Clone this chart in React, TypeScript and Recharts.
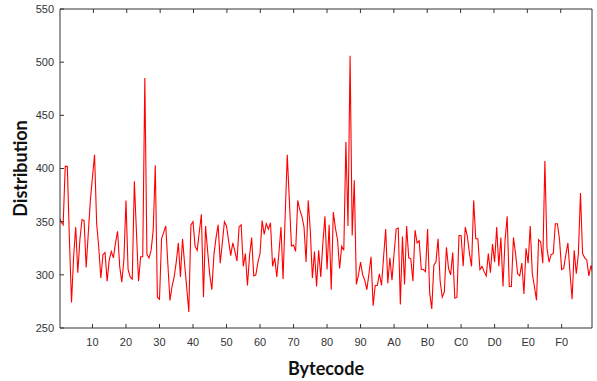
import React from 'react';
import { LineChart, Line, XAxis, YAxis } from 'recharts';

// counts per bytecode 0x00..0xFF
const distribution = [
  355, 350, 347, 402, 402, 333, 274, 317, 345, 302, 333, 352, 351, 307, 339, 370,
  392, 413, 348, 326, 297, 319, 321, 294, 314, 322, 316, 330, 341, 308, 293, 314,
  370, 305, 298, 296, 388, 340, 294, 317, 317, 485, 319, 316, 323, 342, 403, 279,
  277, 334, 340, 346, 310, 276, 289, 298, 312, 330, 298, 334, 310, 288, 265, 347,
  350, 327, 323, 340, 357, 279, 346, 322, 300, 286, 319, 335, 347, 311, 330, 350,
  346, 332, 318, 330, 322, 313, 345, 347, 308, 320, 290, 318, 335, 299, 300, 312,
  320, 351, 338, 348, 343, 349, 308, 316, 298, 320, 345, 296, 355, 413, 370, 327,
  328, 322, 370, 361, 355, 345, 312, 370, 342, 297, 322, 289, 323, 298, 330, 355,
  305, 347, 286, 359, 344, 333, 306, 327, 323, 425, 346, 506, 337, 389, 291, 300,
  312, 300, 295, 286, 301, 317, 271, 290, 290, 301, 290, 317, 343, 292, 316, 295,
  320, 343, 344, 272, 336, 291, 346, 316, 315, 294, 342, 330, 332, 305, 305, 303,
  343, 283, 268, 309, 312, 334, 294, 279, 284, 326, 306, 300, 321, 278, 279, 337,
  337, 308, 345, 336, 320, 308, 370, 334, 334, 305, 308, 303, 299, 320, 302, 329,
  312, 345, 308, 335, 289, 333, 355, 289, 289, 335, 320, 301, 299, 311, 282, 325,
  311, 346, 301, 289, 276, 333, 331, 311, 407, 325, 312, 319, 320, 348, 348, 333,
  305, 306, 319, 330, 302, 277, 323, 301, 320, 377, 320, 316, 314, 299, 309, 300,
];

const xTicks = [16, 32, 48, 64, 80, 96, 112, 128, 144, 160, 176, 192, 208, 224, 240];
const yTicks = [250, 300, 350, 400, 450, 500, 550];

const data = distribution.map((value, code) => ({ code, value }));

const hex = (v: number) => v.toString(16).toUpperCase();
const tickFont = { fontFamily: 'Liberation Sans, Arial, sans-serif', fontSize: 11, fill: '#333' };
const axisColor = '#333';

export default function App() {
  return (
    <div style={{ position: 'fixed', left: 0, top: 0, background: '#fff' }}>
      <LineChart width={597} height={381} data={data} margin={{ top: 0, right: 0, bottom: 0, left: 0 }}>
        <XAxis
          dataKey="code"
          type="number"
          domain={[0.5, 254.5]}
          allowDataOverflow
          ticks={xTicks}
          tickFormatter={hex}
          height={53}
          tickSize={-4}
          tickMargin={14}
          tick={tickFont}
          stroke={axisColor}
          label={{
            value: 'Bytecode',
            position: 'insideBottom',
            offset: 6,
            style: { fontFamily: 'Lato, Open Sans, sans-serif', fontWeight: 700, fontSize: 18, fill: '#111' },
          }}
        />
        <XAxis
          xAxisId="top"
          orientation="top"
          type="number"
          domain={[0.5, 254.5]}
          allowDataOverflow
          ticks={xTicks}
          tickFormatter={() => ''}
          height={9}
          tickSize={-4}
          stroke={axisColor}
        />
        <YAxis
          type="number"
          domain={[250, 550]}
          ticks={yTicks}
          width={60}
          tickSize={-4}
          tickMargin={10}
          tick={tickFont}
          stroke={axisColor}
          label={{
            value: 'Distribution',
            angle: -90,
            position: 'insideLeft',
            offset: 21,
            style: { textAnchor: 'middle', fontFamily: 'Lato, Open Sans, sans-serif', fontWeight: 700, fontSize: 18, fill: '#111' },
          }}
        />
        <YAxis
          yAxisId="right"
          orientation="right"
          type="number"
          domain={[250, 550]}
          ticks={yTicks}
          tickFormatter={() => ''}
          width={5}
          tickSize={-4}
          stroke={axisColor}
        />
        <Line
          dataKey="value"
          stroke="#ff0000"
          strokeWidth={1.1}
          dot={false}
          isAnimationActive={false}
        />
      </LineChart>
    </div>
  );
}
